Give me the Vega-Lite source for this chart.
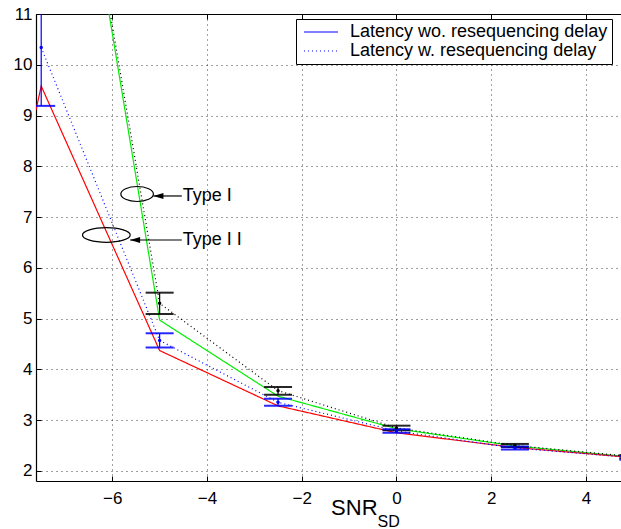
{
  "$schema": "https://vega.github.io/schema/vega-lite/v6.json",
  "width": 585,
  "height": 467,
  "autosize": {"type": "none"},
  "padding": {"left": 36, "top": 14, "right": 0, "bottom": 48},
  "background": "white",
  "config": {
    "view": {"stroke": null},
    "font": "Liberation Sans",
    "axis": {"labelFont": "Liberation Sans", "labelColor": "black", "domainColor": "black", "tickColor": "black", "domainWidth": 1.2}
  },
  "datasets": {
    "lines": [
      {"x": -7.5, "y": 19.1, "series": "Type I wo", "kind": "Latency wo. resequencing delay"},
      {"x": -5, "y": 4.97, "series": "Type I wo", "kind": "Latency wo. resequencing delay"},
      {"x": -2.5, "y": 3.47, "series": "Type I wo", "kind": "Latency wo. resequencing delay"},
      {"x": 0, "y": 2.83, "series": "Type I wo", "kind": "Latency wo. resequencing delay"},
      {"x": 2.5, "y": 2.49, "series": "Type I wo", "kind": "Latency wo. resequencing delay"},
      {"x": 5, "y": 2.27, "series": "Type I wo", "kind": "Latency wo. resequencing delay"},
      {"x": -7.61, "y": 9.11, "series": "Type II wo", "kind": "Latency wo. resequencing delay"},
      {"x": -7.5, "y": 9.58, "series": "Type II wo", "kind": "Latency wo. resequencing delay"},
      {"x": -5, "y": 4.37, "series": "Type II wo", "kind": "Latency wo. resequencing delay"},
      {"x": -2.5, "y": 3.28, "series": "Type II wo", "kind": "Latency wo. resequencing delay"},
      {"x": 0, "y": 2.75, "series": "Type II wo", "kind": "Latency wo. resequencing delay"},
      {"x": 2.5, "y": 2.46, "series": "Type II wo", "kind": "Latency wo. resequencing delay"},
      {"x": 5, "y": 2.26, "series": "Type II wo", "kind": "Latency wo. resequencing delay"},
      {"x": -7.5, "y": 19.0, "series": "Type I w", "kind": "Latency w. resequencing delay"},
      {"x": -5, "y": 5.30, "series": "Type I w", "kind": "Latency w. resequencing delay"},
      {"x": -2.5, "y": 3.58, "series": "Type I w", "kind": "Latency w. resequencing delay"},
      {"x": 0, "y": 2.845, "series": "Type I w", "kind": "Latency w. resequencing delay"},
      {"x": 2.5, "y": 2.50, "series": "Type I w", "kind": "Latency w. resequencing delay"},
      {"x": 5, "y": 2.28, "series": "Type I w", "kind": "Latency w. resequencing delay"},
      {"x": -7.5, "y": 10.34, "series": "Type II w", "kind": "Latency w. resequencing delay"},
      {"x": -5, "y": 4.57, "series": "Type II w", "kind": "Latency w. resequencing delay"},
      {"x": -2.5, "y": 3.35, "series": "Type II w", "kind": "Latency w. resequencing delay"},
      {"x": 0, "y": 2.785, "series": "Type II w", "kind": "Latency w. resequencing delay"},
      {"x": 2.5, "y": 2.45, "series": "Type II w", "kind": "Latency w. resequencing delay"},
      {"x": 5, "y": 2.26, "series": "Type II w", "kind": "Latency w. resequencing delay"}
    ],
    "bars": [
      {"x": -7.5, "lo": 9.19, "hi": 11.8, "mid": 10.34, "series": "Type II w"},
      {"x": -5, "lo": 5.09, "hi": 5.51, "mid": 5.30, "series": "Type I w"},
      {"x": -5, "lo": 4.43, "hi": 4.71, "mid": 4.57, "series": "Type II w"},
      {"x": -2.5, "lo": 3.50, "hi": 3.65, "mid": 3.58, "series": "Type I w"},
      {"x": -2.5, "lo": 3.28, "hi": 3.42, "mid": 3.35, "series": "Type II w"},
      {"x": 0, "lo": 2.80, "hi": 2.89, "mid": 2.845, "series": "Type I w"},
      {"x": 0, "lo": 2.75, "hi": 2.82, "mid": 2.785, "series": "Type II w"},
      {"x": 2.5, "lo": 2.47, "hi": 2.53, "mid": 2.50, "series": "Type I w"},
      {"x": 2.5, "lo": 2.42, "hi": 2.48, "mid": 2.45, "series": "Type II w"},
      {"x": 5, "lo": 2.25, "hi": 2.31, "mid": 2.28, "series": "Type I w"},
      {"x": 5, "lo": 2.22, "hi": 2.29, "mid": 2.26, "series": "Type II w"}
    ],
    "ellipse1": [{"x": -5.475, "y": 7.454}],
    "ellipse2": [{"x": -6.125, "y": 6.646}],
    "arrows": [
      {"x": -5.131, "x2": -4.532, "y": 7.415, "label": "Type I", "tx": -4.51},
      {"x": -5.623, "x2": -4.532, "y": 6.548, "label": "Type I I", "tx": -4.51}
    ],
    "xtitle": [{"x": -0.4, "y": 1.8, "main": "SNR", "sub": "SD"}]
  },
  "resolve": {"axis": {"x": "independent"}},
  "layer": [
    {
      "data": {"name": "lines"},
      "mark": {"type": "line", "clip": true, "strokeWidth": 1.2},
      "encoding": {
        "x": {"field": "x", "type": "quantitative", "title": null,
          "scale": {"domain": [-7.61, 4.74], "nice": false, "zero": false},
          "axis": {"orient": "bottom", "values": [-6, -4, -2, 0, 2, 4], "title": null, "labelFontSize": 17, "labelPadding": 14, "tickSize": -5, "grid": true, "gridColor": "black", "gridDash": [1, 4], "gridOpacity": 0.75}},
        "y": {"field": "y", "type": "quantitative", "title": null,
          "scale": {"domain": [1.8, 11], "nice": false, "zero": false},
          "axis": {"values": [2, 3, 4, 5, 6, 7, 8, 9, 10, 11], "title": null, "labelFontSize": 17, "labelPadding": 9, "tickSize": -5, "grid": true, "gridColor": "black", "gridDash": [1, 4], "gridOpacity": 0.75}},
        "color": {"field": "series", "type": "nominal", "legend": null,
          "scale": {"domain": ["Type I wo", "Type II wo", "Type I w", "Type II w"], "range": ["#00ee00", "#ff0000", "#000000", "#0000ff"]}},
        "strokeDash": {"field": "kind", "type": "nominal",
          "scale": {"domain": ["Latency wo. resequencing delay", "Latency w. resequencing delay"], "range": [[1, 0], [1, 3]]},
          "legend": {"title": null, "orient": "none", "legendX": 260, "legendY": 5, "symbolType": "M-3,0L3,0", "symbolSize": 128, "symbolStrokeWidth": 1.2, "symbolStrokeColor": "#0000ff", "symbolOffset": 12, "labelOffset": 20, "labelFontSize": 18, "labelFont": "Liberation Sans", "labelColor": "black", "strokeColor": "black", "fillColor": "white", "padding": 4, "rowPadding": 1, "cornerRadius": 0, "labelLimit": 400}}
      }
    },
    {
      "data": {"name": "bars"},
      "mark": {"type": "rule", "clip": true, "strokeWidth": 1.2},
      "encoding": {
        "x": {"field": "x", "type": "quantitative", "title": null,
          "axis": {"orient": "top", "values": [-6, -4, -2, 0, 2, 4], "labels": false, "title": null, "tickSize": -5, "grid": false}},
        "y": {"field": "lo", "type": "quantitative", "title": null},
        "y2": {"field": "hi"},
        "color": {"field": "series", "type": "nominal", "legend": null}
      }
    },
    {
      "data": {"name": "bars"},
      "mark": {"type": "tick", "orient": "horizontal", "size": 28, "thickness": 2, "clip": true, "opacity": 0.85},
      "encoding": {
        "x": {"field": "x", "type": "quantitative", "title": null, "axis": null},
        "y": {"field": "lo", "type": "quantitative", "title": null},
        "color": {"field": "series", "type": "nominal", "legend": null}
      }
    },
    {
      "data": {"name": "bars"},
      "mark": {"type": "tick", "orient": "horizontal", "size": 28, "thickness": 2, "clip": true, "opacity": 0.85},
      "encoding": {
        "x": {"field": "x", "type": "quantitative", "title": null, "axis": null},
        "y": {"field": "hi", "type": "quantitative", "title": null},
        "color": {"field": "series", "type": "nominal", "legend": null}
      }
    },
    {
      "data": {"name": "bars"},
      "mark": {"type": "point", "filled": true, "size": 12, "opacity": 1, "clip": true},
      "encoding": {
        "x": {"field": "x", "type": "quantitative", "title": null, "axis": null},
        "y": {"field": "mid", "type": "quantitative", "title": null},
        "color": {"field": "series", "type": "nominal", "legend": null}
      }
    },
    {
      "data": {"name": "ellipse1"},
      "mark": {"type": "point", "shape": "M-1,0C-1,-0.254,-0.552,-0.46,0,-0.46C0.552,-0.46,1,-0.254,1,0C1,0.254,0.552,0.46,0,0.46C-0.552,0.46,-1,0.254,-1,0Z", "size": 1063, "filled": false, "color": "black", "strokeWidth": 1.2, "opacity": 1},
      "encoding": {
        "x": {"field": "x", "type": "quantitative", "title": null, "axis": null},
        "y": {"field": "y", "type": "quantitative", "title": null}
      }
    },
    {
      "data": {"name": "ellipse2"},
      "mark": {"type": "point", "shape": "M-1,0C-1,-0.169,-0.552,-0.306,0,-0.306C0.552,-0.306,1,-0.169,1,0C1,0.169,0.552,0.306,0,0.306C-0.552,0.306,-1,0.169,-1,0Z", "size": 2275, "filled": false, "color": "black", "strokeWidth": 1.2, "opacity": 1},
      "encoding": {
        "x": {"field": "x", "type": "quantitative", "title": null, "axis": null},
        "y": {"field": "y", "type": "quantitative", "title": null}
      }
    },
    {
      "data": {"name": "arrows"},
      "mark": {"type": "rule", "color": "black", "strokeWidth": 1.2},
      "encoding": {
        "x": {"field": "x", "type": "quantitative", "title": null, "axis": null},
        "x2": {"field": "x2"},
        "y": {"field": "y", "type": "quantitative", "title": null}
      }
    },
    {
      "data": {"name": "arrows"},
      "mark": {"type": "point", "shape": "M0,0L2,-0.6L2,0.6Z", "size": 100, "filled": true, "color": "black", "opacity": 1},
      "encoding": {
        "x": {"field": "x", "type": "quantitative", "title": null, "axis": null},
        "y": {"field": "y", "type": "quantitative", "title": null}
      }
    },
    {
      "data": {"name": "arrows"},
      "mark": {"type": "text", "align": "left", "baseline": "middle", "fontSize": 18, "font": "Liberation Sans", "color": "black"},
      "encoding": {
        "x": {"field": "tx", "type": "quantitative", "title": null, "axis": null},
        "y": {"field": "y", "type": "quantitative", "title": null},
        "text": {"field": "label"}
      }
    },
    {
      "data": {"name": "xtitle"},
      "mark": {"type": "text", "align": "right", "baseline": "alphabetic", "fontSize": 22, "font": "Liberation Sans", "color": "black", "dy": 34},
      "encoding": {
        "x": {"field": "x", "type": "quantitative", "title": null, "axis": null},
        "y": {"field": "y", "type": "quantitative", "title": null},
        "text": {"field": "main"}
      }
    },
    {
      "data": {"name": "xtitle"},
      "mark": {"type": "text", "align": "left", "baseline": "alphabetic", "fontSize": 16, "font": "Liberation Sans", "color": "black", "dy": 46},
      "encoding": {
        "x": {"field": "x", "type": "quantitative", "title": null, "axis": null},
        "y": {"field": "y", "type": "quantitative", "title": null},
        "text": {"field": "sub"}
      }
    }
  ]
}
